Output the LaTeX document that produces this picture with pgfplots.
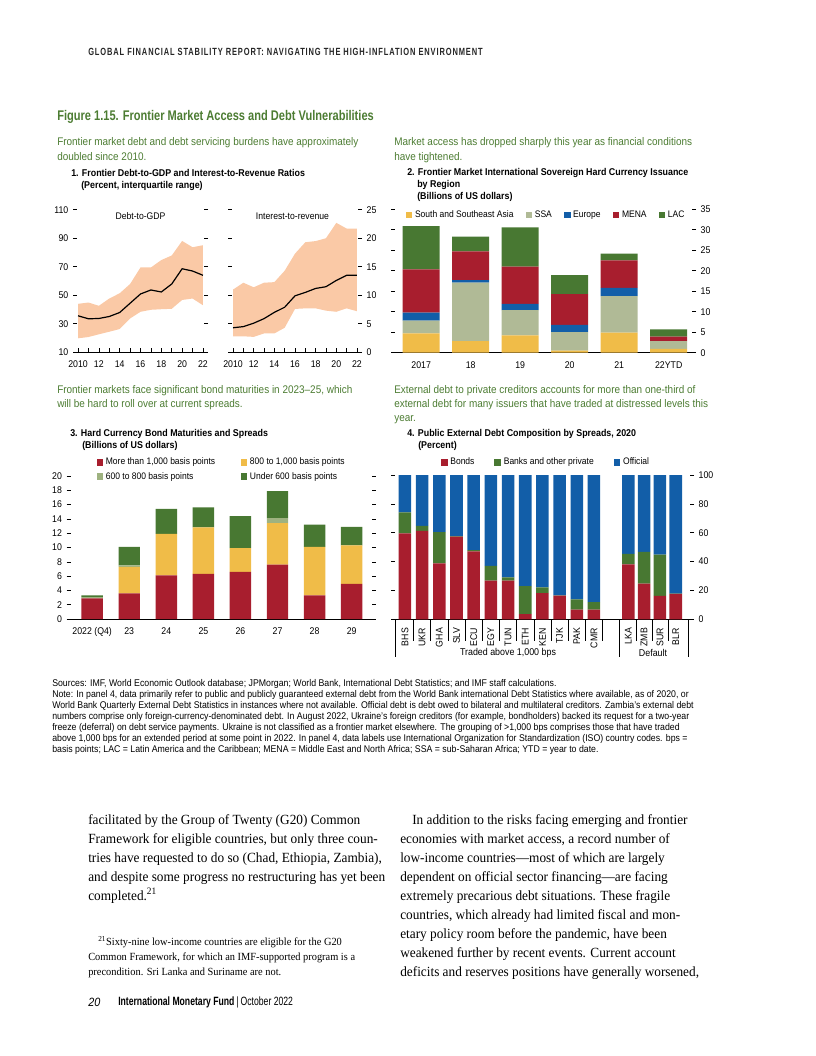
\documentclass[border=0pt]{standalone}
\usepackage{fontspec}
\setmainfont{Liberation Sans}[FakeStretch=0.9]
\newfontfamily\titlefont{Liberation Sans}[FakeStretch=0.79]
\newfontfamily\narrowfont{Liberation Sans}[FakeStretch=0.72]
\newfontfamily\bodyserif{Liberation Serif}[FakeStretch=0.95]
\usepackage{pgfplots}
\pgfplotsset{compat=1.18}
\usepgfplotslibrary{fillbetween}

\definecolor{figGreen}{RGB}{76,124,50}
\definecolor{bandPeach}{RGB}{250,201,166}
\definecolor{imfRed}{RGB}{168,30,46}
\definecolor{imfYellow}{RGB}{240,188,72}
\definecolor{ssaGrey}{RGB}{176,186,150}
\definecolor{imfBlue}{RGB}{18,94,168}
\definecolor{imfGreen}{RGB}{72,120,50}
\definecolor{paleGreen}{RGB}{158,178,128}

\newcommand{\fs}[2]{\fontsize{#1}{#2}\selectfont}

\pgfplotsset{
  imf/.style={
    scale only axis, anchor=south west, clip=false,
    axis x line*=bottom,
    y axis line style={draw=none},
    x axis line style={line width=0.5pt},
    tick align=outside, major tick length=3pt,
    tick style={black, line width=0.45pt},
    ticklabel style={font=\fs{7.3}{8}},
    /pgf/number format/assume math mode=true,
    legend cell align=left,
    legend style={draw=none, fill=none, inner sep=0pt, font=\fs{7.1}{8},
      /tikz/every even column/.append style={column sep=7pt}},
  },
  sq legend/.style={legend image code/.code={\draw[##1,draw=none] (0pt,-2.5pt) rectangle (5pt,2.5pt);}},
}

\begin{document}
\begin{tikzpicture}
\path (0,0) rectangle (612pt,-792pt);

% ---------- panel 1, debt-to-GDP
\begin{axis}[imf, at={(57.75pt,-264.2pt)}, width=95.25pt, height=106.9pt,
  xmin=2009.9, xmax=2022.1, ymin=10, ymax=110, ytick={10,30,...,110},
  xtick={2010,...,2022}, xticklabels={2010,,12,,14,,16,,18,,20,,22}, xtick align=inside,
  xticklabel style={yshift=-2.5pt},
  yticklabel pos=left, ytick pos=both]
\addplot[name path=U, draw=none] coordinates {(2010,44) (2011,44.9) (2012,42.6) (2013,47.7) (2014,51.4) (2015,57.9) (2016,69.5) (2017,69.5) (2018,74.7) (2019,77.9) (2020,88.1) (2021,83.7) (2022,85.1)};
\addplot[name path=L, draw=none] coordinates {(2010,19.8) (2011,20.7) (2012,22.6) (2013,24.4) (2014,26.3) (2015,33.7) (2016,38.4) (2017,39.8) (2018,40.2) (2019,40.5) (2020,46.7) (2021,47.7) (2022,43)};
\addplot[fill=bandPeach, draw=none] fill between[of=U and L];
\addplot[black, line width=0.9pt] coordinates {(2010,35.6) (2011,33.5) (2012,33.7) (2013,35.1) (2014,37.9) (2015,44.4) (2016,50.9) (2017,53.7) (2018,52.3) (2019,57.9) (2020,68.6) (2021,67) (2022,64)};
\node[font=\fs{7.2}{8}] at (rel axis cs:0.5,0.955) {Debt-to-GDP};
\end{axis}

% ---------- panel 1, interest-to-revenue
\begin{axis}[imf, at={(174pt,-264.2pt)}, width=94.5pt, height=106.9pt,
  xmin=2009.9, xmax=2022.1, ymin=0, ymax=25, ytick={0,5,...,25},
  xtick={2010,...,2022}, xticklabels={2010,,12,,14,,16,,18,,20,,22}, xtick align=inside,
  xticklabel style={yshift=-2.5pt},
  yticklabel pos=right, ytick pos=both]
\addplot[name path=U, draw=none] coordinates {(2010,11.0) (2011,12.2) (2012,11.4) (2013,12.2) (2014,12.3) (2015,14.3) (2016,17.3) (2017,19.3) (2018,19.5) (2019,20.0) (2020,22.7) (2021,21.7) (2022,21.7)};
\addplot[name path=L, draw=none] coordinates {(2010,2.8) (2011,2.8) (2012,2.7) (2013,3.3) (2014,3.3) (2015,4.3) (2016,7.6) (2017,7.7) (2018,7.7) (2019,7.3) (2020,7.1) (2021,7.7) (2022,7.2)};
\addplot[fill=bandPeach, draw=none] fill between[of=U and L];
\addplot[black, line width=0.9pt] coordinates {(2010,4.3) (2011,4.5) (2012,5.1) (2013,5.9) (2014,7.0) (2015,7.9) (2016,9.9) (2017,10.5) (2018,11.2) (2019,11.5) (2020,12.6) (2021,13.5) (2022,13.5)};
\node[font=\fs{7.2}{8}] at (rel axis cs:0.48,0.955) {Interest-to-revenue};
\end{axis}

% ---------- panel 2, issuance by region
\begin{axis}[imf, ybar stacked, sq legend, bar width=27.75pt,
  at={(296.25pt,-264.5pt)}, width=222.75pt, height=107.55pt,
  xmin=-0.53, xmax=5.47, ymin=0, ymax=35, ytick={0,5,...,35},
  yticklabel pos=right, ytick pos=both,
  xtick={0,...,5}, xticklabels={2017,18,19,20,21,22YTD}, xtick style={draw=none},
  legend columns=5, legend style={at={(0.035,1)}, anchor=west, yshift=-4.3pt}]
\addplot[fill=imfYellow, draw=none] coordinates {(0,4.7) (1,2.8) (2,4.2) (3,0.5) (4,4.9) (5,0.9)};
\addplot[fill=ssaGrey, draw=none] coordinates {(0,3.1) (1,14.3) (2,6.2) (3,4.5) (4,8.9) (5,1.9)};
\addplot[fill=imfBlue, draw=none] coordinates {(0,2.0) (1,0.6) (2,1.5) (3,1.8) (4,2.0) (5,0)};
\addplot[fill=imfRed, draw=none] coordinates {(0,10.5) (1,7.0) (2,9.1) (3,7.5) (4,6.7) (5,1.1)};
\addplot[fill=imfGreen, draw=none] coordinates {(0,10.6) (1,3.6) (2,9.6) (3,4.6) (4,1.7) (5,1.8)};
\legend{South and Southeast Asia, SSA, Europe, MENA, LAC}
\end{axis}

% ---------- panel 3, bond maturities
\begin{axis}[imf, ybar stacked, sq legend, bar width=16.1pt,
  at={(53pt,-464.25pt)}, width=225.75pt, height=107.25pt,
  xmin=-0.58, xmax=7.54, ymin=0, ymax=20, ytick={0,2,...,20},
  yticklabel pos=left, ytick pos=both,
  xtick={0,...,7}, xticklabels={2022 (Q4),23,24,25,26,27,28,29}, xtick style={draw=none},
  legend columns=2, legend style={at={(0.085,1)}, anchor=south west, yshift=-6pt,
    /tikz/every even column/.append style={column sep=17pt}}]
\addplot[fill=imfRed, draw=none] coordinates {(0,2.9) (1,3.6) (2,6.1) (3,6.3) (4,6.6) (5,7.6) (6,3.3) (7,4.9)};
\addplot[fill=imfYellow, draw=none] coordinates {(0,0) (1,3.7) (2,5.8) (3,6.5) (4,3.3) (5,5.8) (6,6.8) (7,5.4)};
\addplot[fill=paleGreen, draw=none] coordinates {(0,0.15) (1,0.2) (2,0) (3,0) (4,0) (5,0.7) (6,0) (7,0)};
\addplot[fill=imfGreen, draw=none] coordinates {(0,0.25) (1,2.6) (2,3.5) (3,2.8) (4,4.5) (5,3.8) (6,3.1) (7,2.6)};
\legend{More than 1{,}000 basis points, 800 to 1{,}000 basis points, 600 to 800 basis points, Under 600 basis points}
\end{axis}

% ---------- panel 4, debt composition
\begin{axis}[imf, ybar stacked, sq legend, bar width=9.4pt,
  at={(296.25pt,-464.5pt)}, width=221.25pt, height=108.2pt,
  xmin=-0.58, xmax=16.59, ymin=0, ymax=100, ytick={0,20,...,100},
  yticklabel pos=right, ytick pos=both,
  xtick={0,1,2,3,4,5,6,7,8,9,10,11,13,13.92,14.84,15.76},
  xticklabels={BHS,UKR,GHA,SLV,ECU,EGY,TUN,ETH,KEN,TJK,PAK,CMR,LKA,ZMB,SUR,BLR},
  xticklabel style={rotate=90, anchor=east}, xtick style={draw=none},
  legend columns=3, legend style={at={(0.155,1)}, anchor=west, yshift=9.5pt,
    /tikz/every even column/.append style={column sep=13pt}}]
\addplot[fill=imfRed, draw=none] coordinates {(0,59.6) (1,61.4) (2,38.8) (3,57.3) (4,47.1) (5,26.8) (6,26.8) (7,3.7) (8,18.2) (9,16.4) (10,6.7) (11,6.7) (13,38.1) (13.92,24.7) (14.84,16.2) (15.76,17.6)};
\addplot[fill=imfGreen, draw=none] coordinates {(0,14.5) (1,3.3) (2,21.7) (3,0.4) (4,0.9) (5,10.2) (6,2.3) (7,19.4) (8,4.0) (9,0.2) (10,7.2) (11,5.3) (13,7.2) (13.92,22.0) (14.84,28.6) (15.76,0.2)};
\addplot[fill=imfBlue, draw=none] coordinates {(0,25.9) (1,35.3) (2,39.5) (3,42.3) (4,52.0) (5,63.0) (6,70.9) (7,76.9) (8,77.8) (9,83.4) (10,86.1) (11,88.0) (13,54.7) (13.92,53.3) (14.84,55.2) (15.76,82.2)};
\legend{Bonds, Banks and other private, Official}
\pgfplotsinvokeforeach{0.5,1.5,2.5,3.5,4.5,5.5,6.5,7.5,8.5,9.5,10.5,11.5,13.46,14.38,15.3}{
  \draw[line width=0.45pt] (axis cs:#1,0) -- ++(0pt,-16.5pt);}
\pgfplotsinvokeforeach{-0.56,12.48,16.48}{
  \draw[line width=0.45pt] (axis cs:#1,0) -- ++(0pt,-28.5pt);}
\end{axis}

% ---------- page text, in pixel units from the top left
\begin{scope}[x=0.75pt, y=-0.75pt, every node/.style={inner sep=0pt}]
\node[anchor=west, text=black!85, font=\narrowfont\bfseries\fs{7.8}{9}] at (88,52) {\addfontfeature{LetterSpace=8.5}GLOBAL FINANCIAL STABILITY REPORT: NAVIGATING THE HIGH-INFLATION ENVIRONMENT};
\node[anchor=west, text=figGreen, font=\titlefont\bfseries\fs{10.5}{12}] at (57,117) {Figure 1.15. Frontier Market Access and Debt Vulnerabilities};
\node[anchor=north west, align=left, text=figGreen, font=\fs{8.3}{10.8}] at (57,137.5) {Frontier market debt and debt servicing burdens have approximately\\doubled since 2010.};
\node[anchor=north west, align=left, text=figGreen, font=\fs{8.3}{10.8}] at (394,137.5) {Market access has dropped sharply this year as financial conditions\\have tightened.};
\node[anchor=north west, align=left, text=figGreen, font=\fs{8.3}{10.3}] at (57,385.5) {Frontier markets face significant bond maturities in 2023–25, which\\will be hard to roll over at current spreads.};
\node[anchor=north west, align=left, text=figGreen, font=\fs{8.3}{10.3}] at (394,385.5) {External debt to private creditors accounts for more than one-third of\\external debt for many issuers that have traded at distressed levels this\\year.};

\node[anchor=west, font=\bfseries\fs{7.4}{8}] at (71,173) {1. Frontier Debt-to-GDP and Interest-to-Revenue Ratios};
\node[anchor=west, font=\bfseries\fs{7.4}{8}] at (81,186) {(Percent, interquartile range)};
\node[anchor=west, font=\bfseries\fs{7.4}{8}] at (407,173) {2. Frontier Market International Sovereign Hard Currency Issuance};
\node[anchor=west, font=\bfseries\fs{7.4}{8}] at (417,185) {by Region};
\node[anchor=west, font=\bfseries\fs{7.4}{8}] at (417,197) {(Billions of US dollars)};
\node[anchor=west, font=\bfseries\fs{7.4}{8}] at (70,434) {3. Hard Currency Bond Maturities and Spreads};
\node[anchor=west, font=\bfseries\fs{7.4}{8}] at (82,445.5) {(Billions of US dollars)};
\node[anchor=west, font=\bfseries\fs{7.4}{8}] at (407,434) {4. Public External Debt Composition by Spreads, 2020};
\node[anchor=west, font=\bfseries\fs{7.4}{8}] at (418,445.5) {(Percent)};

\node[font=\fs{7.4}{8}] at (508,653) {Traded above 1,000 bps};
\node[font=\fs{7.4}{8}] at (653,653) {Default};

\node[anchor=north west, align=left, font=\fs{7.3}{8.25}] at (52,679) {Sources: IMF, World Economic Outlook database; JPMorgan; World Bank, International Debt Statistics; and IMF staff calculations.\\
Note: In panel 4, data primarily refer to public and publicly guaranteed external debt from the World Bank international Debt Statistics where available, as of 2020, or\\
World Bank Quarterly External Debt Statistics in instances where not available. Official debt is debt owed to bilateral and multilateral creditors. Zambia’s external debt\\
numbers comprise only foreign-currency-denominated debt. In August 2022, Ukraine’s foreign creditors (for example, bondholders) backed its request for a two-year\\
freeze (deferral) on debt service payments. Ukraine is not classified as a frontier market elsewhere. The grouping of >1,000 bps comprises those that have traded\\
above 1,000 bps for an extended period at some point in 2022. In panel 4, data labels use International Organization for Standardization (ISO) country codes. bps =\\
basis points; LAC = Latin America and the Caribbean; MENA = Middle East and North Africa; SSA = sub-Saharan Africa; YTD = year to date.};

\node[anchor=north west, align=left, font=\bodyserif\fs{10.5}{14.25}] at (88,814) {facilitated by the Group of Twenty (G20) Common\\
Framework for eligible countries, but only three coun-\\
tries have requested to do so (Chad, Ethiopia, Zambia),\\
and despite some progress no restructuring has yet been\\
completed.\textsuperscript{21}};
\node[anchor=north west, align=left, font=\bodyserif\fs{8.2}{11.25}] at (88,936) {\hspace*{7.5pt}\textsuperscript{21}Sixty-nine low-income countries are eligible for the G20\\
Common Framework, for which an IMF-supported program is a\\
precondition. Sri Lanka and Suriname are not.};
\node[anchor=north west, align=left, font=\bodyserif\fs{10.5}{14.25}] at (400,814) {\hspace*{9pt}In addition to the risks facing emerging and frontier\\
economies with market access, a record number of\\
low-income countries—most of which are largely\\
dependent on official sector financing—are facing\\
extremely precarious debt situations. These fragile\\
countries, which already had limited fiscal and mon-\\
etary policy room before the pandemic, have been\\
weakened further by recent events. Current account\\
deficits and reserves positions have generally worsened,};

\node[anchor=west, font=\itshape\fs{9}{10}] at (88,1002) {20};
\node[anchor=west, font=\narrowfont\fs{9}{10}] at (118,1002) {\textbf{International Monetary Fund}\,|\,October 2022};
\end{scope}
\end{tikzpicture}
\end{document}
